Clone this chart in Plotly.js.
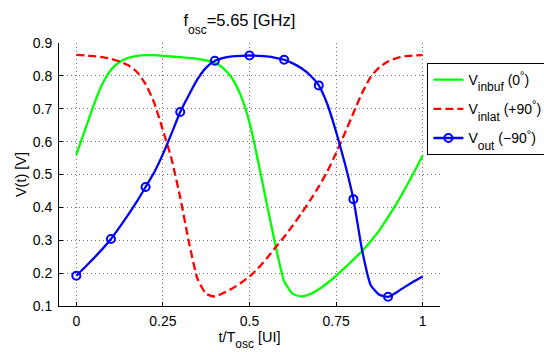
<!DOCTYPE html>
<html>
<head>
<meta charset="utf-8">
<script src="https://cdn.plot.ly/plotly-3.0.1.min.js"></script>
<style>html,body{margin:0;padding:0;background:#fff;}#chart{width:544px;height:352px;}</style>
</head>
<body>
<div id="chart"></div>
<script>
// time axis t/Tosc
const t = [0,0.025,0.05,0.075,0.1,0.125,0.15,0.175,0.2,0.225,0.25,0.275,0.3,0.325,0.35,0.375,0.4,0.425,0.45,0.475,0.5,0.525,0.55,0.575,0.6,0.625,0.65,0.675,0.7,0.725,0.75,0.775,0.8,0.825,0.85,0.875,0.9,0.925,0.95,0.975,1];
// V_inbuf (0 deg)
const vInbuf = [0.56,0.635,0.71,0.775,0.818,0.842,0.855,0.861,0.863,0.863,0.861,0.859,0.857,0.855,0.852,0.847,0.839,0.823,0.792,0.74,0.658,0.54,0.41,0.285,0.175,0.137,0.129,0.136,0.151,0.17,0.192,0.216,0.241,0.267,0.297,0.33,0.37,0.412,0.458,0.507,0.558];
// V_inlat (+90 deg)
const vInlat = [0.864,0.862,0.86,0.857,0.852,0.844,0.832,0.812,0.775,0.718,0.635,0.547,0.43,0.295,0.182,0.137,0.129,0.14,0.153,0.17,0.19,0.215,0.245,0.278,0.31,0.345,0.382,0.421,0.463,0.51,0.565,0.625,0.687,0.748,0.797,0.826,0.844,0.854,0.86,0.862,0.863];
// V_out (-90 deg)
const vOut = [0.192,0.218,0.245,0.273,0.304,0.34,0.378,0.418,0.462,0.507,0.562,0.625,0.69,0.742,0.79,0.825,0.846,0.855,0.859,0.861,0.862,0.861,0.859,0.855,0.849,0.838,0.823,0.802,0.771,0.713,0.63,0.535,0.425,0.27,0.163,0.134,0.128,0.142,0.159,0.175,0.19];
// sample instants that carry a marker on V_out
const markerT = [0,0.1,0.2,0.3,0.4,0.5,0.6,0.7,0.8,0.9];

const xTicks = [0,0.25,0.5,0.75,1];
const xTickText = ['0','0.25','0.5','0.75','1'];
const yTicks = [0.1,0.2,0.3,0.4,0.5,0.6,0.7,0.8,0.9];
const yTickText = ['0.1','0.2','0.3','0.4','0.5','0.6','0.7','0.8','0.9'];

const BLUE = '#0000ff';
const outMarkerColors = t.map(v => markerT.some(m => Math.abs(m - v) < 1e-9) ? BLUE : 'rgba(0,0,0,0)');

const FONT = 'Liberation Sans, Arial, Helvetica, sans-serif';
// deeper subscript (MATLAB tex style) with near full-size letters
const sub = s => '<sub><sub><sub><span style="font-size:12px">' + s + '</span></sub></sub></sub>';
const sup = s => '<sup><span style="font-size:11px">' + s + '</span></sup>';

const traces = [
  {x: t, y: vInbuf, mode: 'lines', name: 'V' + sub('inbuf') + ' (0' + sup('°') + ')', legendgroup: 'a',
   line: {color: '#00ff00', width: 2.3, shape: 'spline', smoothing: 0.5}},
  {x: t, y: vInlat, mode: 'lines', name: 'V' + sub('inlat') + ' (+90' + sup('°') + ')', legendgroup: 'b',
   line: {color: '#ff0000', width: 2.3, dash: '8px,4px', shape: 'spline', smoothing: 0.5}},
  {x: t, y: vOut, mode: 'lines+markers', name: 'V' + sub('out') + ' (−90' + sup('°') + ')', legendgroup: 'c',
   line: {color: BLUE, width: 2.3, shape: 'spline', smoothing: 0.5},
   marker: {symbol: 'circle-open', size: 8, color: outMarkerColors, line: {width: 2}}}
];

const GRID = 'rgba(0,0,0,0.55)';
const layout = {
  width: 544, height: 352,
  paper_bgcolor: '#fff', plot_bgcolor: '#fff',
  font: {family: FONT, size: 14, color: '#000'},
  margin: {l: 59.4, r: 104.4, t: 43.3, b: 45.6, pad: 0, autoexpand: false},
  showlegend: true,
  title: {text: 'f' + sub('osc') + '=5.65 [GHz]', font: {family: FONT, size: 16.5, color: '#000'},
          x: 0.44, xanchor: 'center', xref: 'container', y: 0.942, yref: 'container', yanchor: 'middle'},
  xaxis: {
    range: [-0.05, 1.05], tickvals: xTicks, ticktext: xTickText,
    showline: true, linecolor: '#000', linewidth: 1, mirror: false,
    ticks: 'inside', ticklen: 4, tickcolor: '#000',
    showgrid: true, gridcolor: GRID, griddash: '1px,3px', gridwidth: 1,
    zeroline: false, tickfont: {family: FONT, size: 14}, ticklabelstandoff: 2,
    title: {text: 't/T' + sub('osc') + ' [UI]', standoff: 0, font: {family: FONT, size: 14.5}}
  },
  yaxis: {
    range: [0.1, 0.9], tickvals: yTicks, ticktext: yTickText,
    showline: true, linecolor: '#000', linewidth: 1, mirror: false,
    ticks: 'inside', ticklen: 4, tickcolor: '#000',
    showgrid: true, gridcolor: GRID, griddash: '1px,3px', gridwidth: 1,
    zeroline: false, tickfont: {family: FONT, size: 14}, ticklabelstandoff: 3,
    title: {text: 'V(t) [V]', standoff: 2, font: {family: FONT, size: 14.5}}
  },
  legend: {
    x: 0.9669, xanchor: 'left', y: 0.924, yanchor: 'top', xref: 'paper', yref: 'paper',
    bgcolor: '#fff', bordercolor: '#000', borderwidth: 1,
    traceorder: 'grouped', tracegroupgap: 8,
    font: {family: FONT, size: 14, color: '#000'}
  }
};

Plotly.newPlot('chart', traces, layout, {staticPlot: true, displayModeBar: false});
</script>
</body>
</html>
